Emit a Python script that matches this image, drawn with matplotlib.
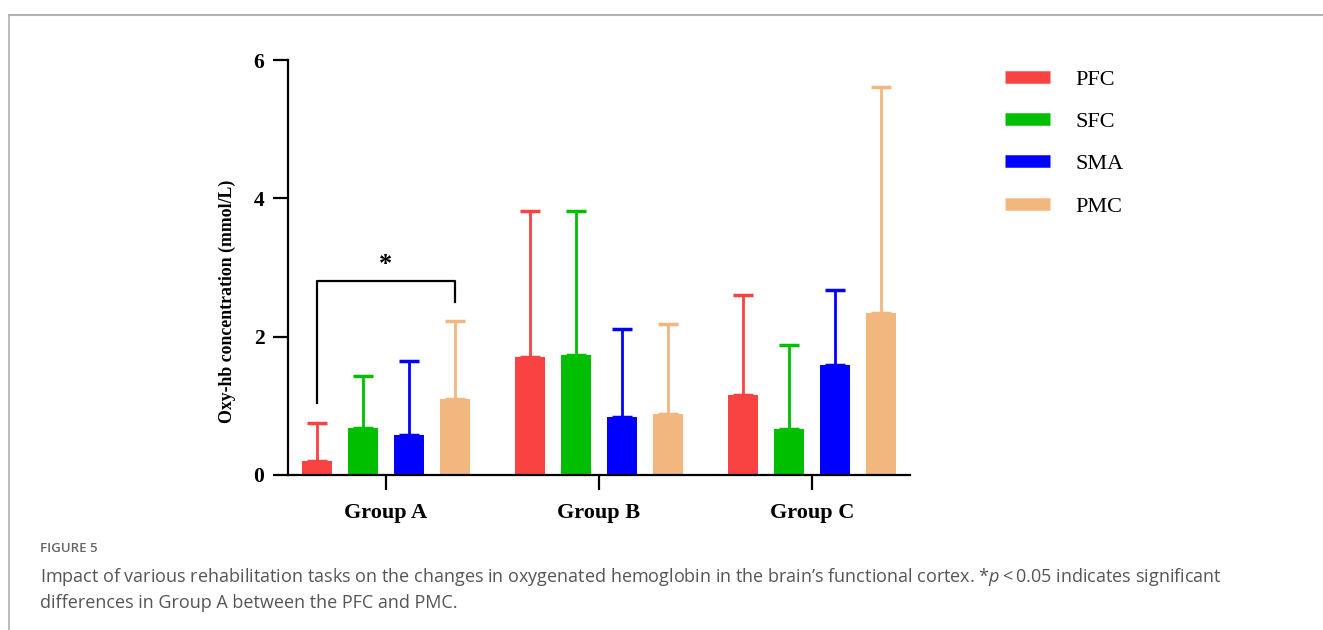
import matplotlib
matplotlib.use('Agg')
import matplotlib.pyplot as plt
import numpy as np
from matplotlib.lines import Line2D

# 数据
groups = ['Group A', 'Group B', 'Group C']
regions = ['PFC', 'SFC', 'SMA', 'PMC']
pfc_mean = [0.20, 1.71, 1.16]
pfc_sd = [0.55, 2.11, 1.44]
sfc_mean = [0.68, 1.73, 0.66]
sfc_sd = [0.75, 2.09, 1.22]
sma_mean = [0.58, 0.84, 1.59]
sma_sd = [1.07, 1.27, 1.08]
pmc_mean = [1.10, 0.88, 2.34]
pmc_sd = [1.13, 1.30, 3.27]
colors = ['#F94242', '#00BE00', '#0000FF', '#F2B77E']

means = [pfc_mean, sfc_mean, sma_mean, pmc_mean]
sds = [pfc_sd, sfc_sd, sma_sd, pmc_sd]

plt.rcParams['font.family'] = ['Liberation Serif', 'DejaVu Serif']
plt.rcParams['mathtext.fontset'] = 'custom'
plt.rcParams['mathtext.it'] = 'Open Sans:italic'
plt.rcParams['mathtext.rm'] = 'Open Sans'

fig = plt.figure(figsize=(13.23, 6.30), dpi=100)
ax = fig.add_axes([288 / 1323, 1 - 475 / 630, (910 - 288) / 1323, (475 - 60) / 630])

x = np.arange(len(groups))
width = 0.141
offsets = [-0.324, -0.108, 0.108, 0.324]
for i, reg in enumerate(regions):
    ax.bar(x + offsets[i], means[i], width, color=colors[i], label=reg, zorder=2)
    ax.errorbar(x + offsets[i], means[i], yerr=[np.zeros(3), sds[i]], fmt='none',
                ecolor=colors[i], elinewidth=2, capsize=7.5, capthick=2.5, zorder=1)

ax.set_xlim(-0.46, 2.46)
ax.set_ylim(0, 6)
ax.set_yticks([0, 2, 4, 6])
ax.set_xticks(x)
ax.set_xticklabels(groups)
for sp in ['top', 'right']:
    ax.spines[sp].set_visible(False)
for sp in ['left', 'bottom']:
    ax.spines[sp].set_linewidth(1.6)
ax.tick_params(axis='both', direction='out', length=11, width=1.6)
ax.tick_params(axis='y', pad=6, labelsize=15.5)
ax.tick_params(axis='x', pad=9, labelsize=16)
for lab in ax.get_xticklabels() + ax.get_yticklabels():
    lab.set_fontweight('bold')
ax.set_ylabel('Oxy-hb concentration (mmol/L)', fontsize=12.8, fontweight='bold')
ax.yaxis.set_label_coords(-0.083, 0.419)

# 显著性标记
xa = x[0] + offsets[0]
xb = x[0] + offsets[3]
ax.plot([xa, xa, xb, xb], [1.04, 2.80, 2.80, 2.50], color='black', lw=1.6, zorder=3)
ax.text((xa + xb) / 2, 3.05, '*', ha='center', va='center', fontsize=19, fontweight='bold')

# 图例
handles = [Line2D([0], [0], color=c, lw=9, solid_capstyle='butt') for c in colors]
fig.legend(handles, regions, loc='upper left', bbox_to_anchor=(1005 / 1323, 1 - 69 / 630),
           frameon=False, fontsize=16, handlelength=2.03, handletextpad=1.13,
           labelspacing=0.98, borderpad=0, borderaxespad=0)

# 外框
fig.add_artist(Line2D([9 / 1323, 1], [1 - 14.5 / 630, 1 - 14.5 / 630], color='#b0b0b0', lw=1.5))
fig.add_artist(Line2D([9 / 1323, 9 / 1323], [0, 1 - 14.5 / 630], color='#b0b0b0', lw=1.2))

# 标题说明
fig.text(40 / 1323, 1 - 549 / 630, 'FIGURE 5', family='Open Sans', fontsize=9.5,
         fontweight='semibold', color='#666666', va='center')
fig.text(40 / 1323, 1 - 577 / 630,
         'Impact of various rehabilitation tasks on the changes in oxygenated hemoglobin in the brain\u2019s functional cortex. *$p$\u2009<\u20090.05 indicates significant',
         family=['Open Sans', 'DejaVu Sans'], fontsize=13, color='#555555', va='center')
fig.text(40 / 1323, 1 - 603 / 630, 'differences in Group A between the PFC and PMC.',
         family='Open Sans', fontsize=13, color='#555555', va='center')

fig.savefig('out.png', dpi=100)
